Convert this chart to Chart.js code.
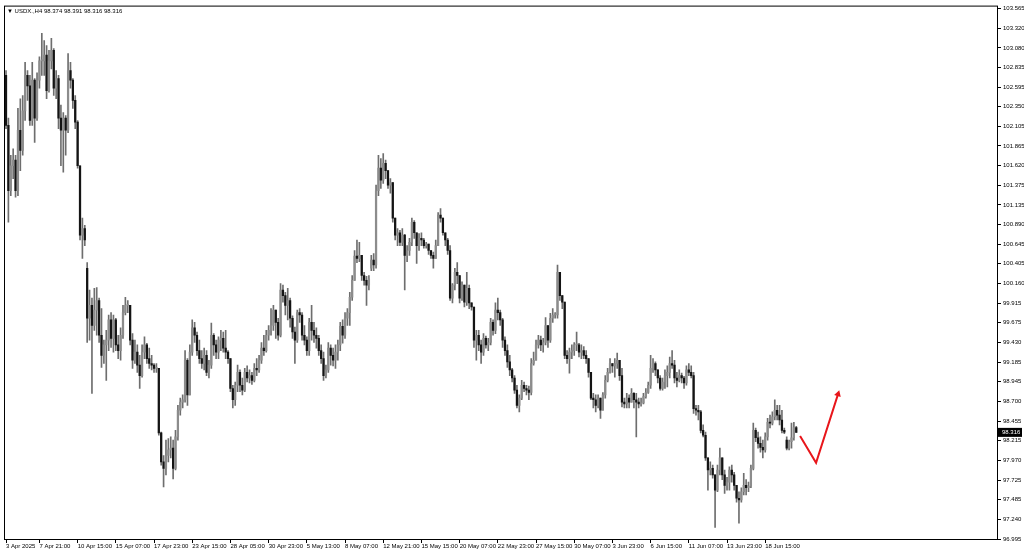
<!DOCTYPE html>
<html>
<head>
<meta charset="utf-8">
<script src="https://cdn.jsdelivr.net/npm/chart.js@4/dist/chart.umd.min.js"></script>
<style>
  html, body { margin: 0; padding: 0; background: #fff; }
  #wrap { width: 1024px; height: 559px; }
</style>
</head>
<body>
<div id="wrap"><canvas id="myChart" width="1024" height="559"></canvas></div>
<script>
const symbolTitle = '\u25BC USDX.,H4 98.374 98.391 98.316 98.316';

// time axis labels and the bar index each one sits on
const timeLabels = ['3 Apr 2025', '7 Apr 21:00', '10 Apr 15:00', '15 Apr 07:00', '17 Apr 23:00', '23 Apr 15:00',
    '28 Apr 05:00', '30 Apr 23:00', '5 May 13:00', '8 May 07:00', '12 May 21:00', '15 May 15:00', '20 May 07:00',
    '22 May 23:00', '27 May 15:00', '30 May 07:00', '3 Jun 23:00', '6 Jun 15:00', '11 Jun 07:00', '13 Jun 23:00',
    '18 Jun 15:00'];
const timeTickIdx = [0, 14, 30, 46, 62, 78, 94, 110, 126, 142, 158, 174, 190, 206, 222, 238, 254, 270, 286, 302, 318];

// price scale labels
const priceTicks = [103.565, 103.320, 103.080, 102.835, 102.595, 102.350, 102.105, 101.865, 101.620, 101.375,
    101.135, 100.890, 100.645, 100.405, 100.160, 99.915, 99.675, 99.430, 99.185, 98.945, 98.700, 98.455,
    98.215, 97.970, 97.725, 97.485, 97.240, 96.995];

// H4 candles
const opens = [
102.74,102.12,101.31,101.62,101.69,101.31,102.06,101.81,102.30,102.74,
102.61,102.18,102.68,102.21,102.68,102.92,102.92,102.99,102.55,102.92,
103.05,102.58,102.70,102.21,102.06,102.21,102.06,102.80,102.68,102.43,
102.16,101.62,100.76,100.84,100.35,99.73,99.89,99.64,99.83,99.95,
99.52,99.27,99.40,99.46,99.71,99.48,99.71,99.40,99.33,99.52,
99.80,99.89,99.89,99.46,99.21,99.31,99.15,99.02,99.31,99.40,
99.23,99.17,99.15,99.11,99.11,98.31,97.95,97.87,98.03,98.10,
98.12,97.87,98.26,98.59,98.69,98.72,99.21,98.78,99.31,99.61,
99.52,99.33,99.23,99.17,99.27,99.06,99.15,99.52,99.40,99.31,
99.46,99.48,99.36,99.31,99.23,98.86,98.72,98.90,99.06,98.90,
98.84,99.06,98.99,99.02,98.96,99.11,99.09,99.21,99.36,99.33,
99.52,99.58,99.64,99.83,99.68,99.52,100.08,100.01,99.89,99.95,
99.73,99.56,99.46,99.80,99.77,99.52,99.46,99.33,99.68,99.58,
99.52,99.48,99.33,99.23,99.02,99.09,99.36,99.27,99.21,99.31,
99.40,99.63,99.52,99.73,99.80,99.99,100.20,100.50,100.47,100.51,
100.26,100.20,100.14,100.35,100.45,100.39,101.31,101.59,101.44,101.65,
101.56,101.38,101.41,100.97,100.76,100.79,100.67,100.76,100.51,100.57,
100.67,100.92,100.79,100.63,100.72,100.70,100.63,100.65,100.57,100.51,
100.47,100.63,101.01,100.97,100.79,100.70,100.57,99.98,100.14,100.30,
100.26,99.98,100.14,99.93,100.10,99.92,99.87,99.46,99.52,99.40,
99.31,99.48,99.40,99.43,99.68,99.58,99.83,99.80,99.71,99.46,
99.33,99.19,99.09,98.99,98.84,98.65,98.74,98.90,98.86,98.84,
98.81,99.17,99.21,99.40,99.46,99.40,99.43,99.64,99.46,99.73,
99.77,99.77,100.30,100.01,99.93,99.27,99.23,99.31,99.33,99.40,
99.40,99.31,99.33,99.27,99.23,99.06,98.74,98.72,98.65,98.74,
98.59,98.78,98.96,99.06,99.17,99.14,99.17,99.21,99.02,98.69,
98.67,98.74,98.69,98.80,98.72,98.69,98.67,98.68,98.76,98.81,
98.90,99.11,99.17,99.09,98.99,98.86,98.94,99.02,99.06,99.17,
99.15,98.99,98.96,99.02,98.99,98.93,99.09,99.06,99.02,98.61,
98.59,98.57,98.34,98.28,98.00,97.85,97.87,97.79,97.60,97.85,
98.00,97.79,97.66,97.70,97.85,97.79,97.66,97.50,97.48,97.58,
97.66,97.63,97.65,97.87,98.34,98.25,98.18,98.13,98.10,98.26,
98.44,98.43,98.51,98.59,98.53,98.47,98.34,98.22,98.12,98.20,
98.25,98.374];
const highs = [
102.80,102.21,101.75,101.83,101.75,102.33,102.45,102.49,102.90,102.80,
102.74,102.90,102.70,102.77,102.97,103.26,103.17,103.11,103.05,103.20,
103.07,102.80,102.74,102.37,102.28,102.24,103.01,102.90,102.70,102.49,
102.18,101.62,100.97,100.88,100.42,100.08,99.98,100.10,100.11,99.98,
99.85,99.46,99.58,99.77,99.80,99.77,99.73,99.52,99.61,99.89,
99.99,99.95,99.89,99.54,99.46,99.40,99.27,99.40,99.50,99.42,
99.36,99.27,99.17,99.17,99.11,98.32,98.03,98.22,98.24,98.26,
98.22,98.34,98.65,98.74,98.78,99.33,99.23,99.40,99.71,99.68,
99.56,99.46,99.33,99.36,99.33,99.21,99.67,99.54,99.46,99.50,
99.58,99.56,99.58,99.33,99.23,98.90,98.94,99.15,99.09,98.99,
99.11,99.14,99.09,99.06,99.17,99.23,99.27,99.43,99.52,99.58,
99.64,99.85,99.89,99.83,99.73,100.16,100.14,100.05,100.10,99.98,
99.76,99.62,99.83,99.85,99.80,99.64,99.50,99.73,99.89,99.68,
99.61,99.52,99.40,99.31,99.15,99.43,99.40,99.36,99.40,99.46,
99.68,99.71,99.80,99.85,100.05,100.26,100.57,100.70,100.67,100.51,
100.30,100.25,100.26,100.51,100.53,101.38,101.75,101.71,101.77,101.69,
101.56,101.46,101.41,100.97,100.84,100.82,100.84,100.77,100.63,100.72,
100.97,100.94,100.79,100.78,100.79,100.72,100.67,100.65,100.57,100.55,
100.70,101.04,101.09,100.97,100.79,100.72,100.63,100.16,100.35,100.42,
100.26,100.18,100.14,100.30,100.14,99.92,99.87,99.58,99.58,99.46,
99.54,99.51,99.48,99.73,99.71,99.92,99.98,99.83,99.73,99.50,
99.40,99.27,99.11,99.02,98.90,98.78,98.96,98.94,98.90,98.89,
99.23,99.31,99.46,99.52,99.51,99.48,99.74,99.64,99.79,99.85,
99.80,100.39,100.30,100.01,99.93,99.33,99.36,99.40,99.43,99.56,
99.42,99.40,99.38,99.33,99.23,99.06,98.80,98.78,98.78,98.74,
98.81,99.02,99.11,99.23,99.17,99.23,99.30,99.21,99.11,98.74,
98.80,98.78,98.86,98.81,98.80,98.74,98.74,98.80,98.86,98.94,
99.27,99.23,99.19,99.09,99.02,98.99,99.09,99.14,99.25,99.33,
99.21,99.06,99.09,99.05,99.01,99.14,99.17,99.14,99.06,98.65,
98.65,98.59,98.41,98.32,98.00,97.95,97.91,97.79,97.91,98.12,
98.00,97.85,97.76,97.89,97.91,97.82,97.66,97.58,97.63,97.81,
97.73,97.70,97.91,98.43,98.37,98.32,98.26,98.22,98.31,98.49,
98.53,98.57,98.72,98.65,98.65,98.59,98.37,98.26,98.22,98.43,
98.44,98.391];
const lows = [
102.08,100.92,101.25,101.46,101.23,101.25,101.56,101.75,102.18,102.43,
102.12,102.12,101.91,102.18,102.58,102.74,102.74,102.45,102.53,102.82,
102.49,102.45,102.08,101.62,101.54,101.75,102.03,102.58,102.33,102.08,
101.59,100.70,100.47,100.63,99.43,99.46,98.80,99.58,99.52,99.43,
99.12,99.17,98.96,99.33,99.37,99.31,99.33,99.23,99.21,99.48,
99.77,99.80,99.40,99.11,99.17,99.06,98.86,99.00,99.23,99.17,
99.11,99.09,99.06,99.06,98.28,97.91,97.64,97.79,97.95,98.00,
97.74,97.85,98.22,98.53,98.62,98.69,98.65,98.78,99.27,99.43,
99.27,99.17,99.11,99.09,99.02,98.99,99.11,99.27,99.23,99.23,
99.33,99.31,99.23,99.17,98.82,98.62,98.65,98.82,98.82,98.78,
98.82,98.94,98.93,98.91,98.94,99.02,99.06,99.17,99.27,99.31,
99.46,99.52,99.58,99.48,99.46,99.50,99.93,99.77,99.71,99.62,
99.48,99.17,99.43,99.68,99.46,99.40,99.27,99.27,99.46,99.43,
99.36,99.27,99.17,98.96,98.99,99.06,99.15,99.14,99.11,99.21,
99.33,99.42,99.48,99.64,99.64,99.95,100.20,100.42,100.43,100.20,
100.14,99.89,100.08,100.32,100.32,100.35,101.25,101.34,101.40,101.46,
101.34,101.28,100.92,100.70,100.63,100.63,100.63,100.08,100.43,100.51,
100.63,100.72,100.41,100.57,100.63,100.60,100.60,100.52,100.47,100.35,
100.47,100.63,100.92,100.76,100.63,100.52,99.95,99.92,100.08,100.16,
99.92,99.95,99.87,99.89,99.85,99.83,99.37,99.21,99.33,99.17,
99.27,99.36,99.33,99.40,99.52,99.54,99.71,99.64,99.37,99.27,
99.12,99.02,98.94,98.80,98.62,98.57,98.72,98.82,98.78,98.72,
98.78,99.15,99.21,99.36,99.33,99.31,99.40,99.37,99.43,99.68,
99.73,99.73,99.95,99.85,99.23,99.17,99.05,99.23,99.27,99.33,
99.25,99.23,99.23,99.17,99.00,98.72,98.62,98.57,98.62,98.49,
98.59,98.74,98.94,99.05,99.06,99.00,99.11,98.96,98.63,98.62,
98.62,98.62,98.69,98.62,98.26,98.62,98.64,98.67,98.74,98.80,
98.86,99.06,99.02,98.93,98.84,98.84,98.86,98.88,98.99,99.11,
98.93,98.88,98.94,98.93,98.86,98.90,99.02,98.99,98.55,98.53,
98.47,98.31,98.26,97.97,97.60,97.79,97.75,97.14,97.58,97.79,
97.73,97.56,97.60,97.60,97.70,97.60,97.45,97.19,97.45,97.54,
97.54,97.58,97.63,97.85,98.20,98.12,98.07,98.00,98.07,98.22,
98.37,98.41,98.47,98.47,98.41,98.31,98.30,98.10,98.10,98.12,
98.22,98.316];
const closes = [
102.12,101.31,101.62,101.69,101.31,102.06,101.81,102.30,102.74,102.61,
102.18,102.68,102.21,102.68,102.92,102.92,102.99,102.55,102.92,103.05,
102.58,102.70,102.21,102.06,102.21,102.06,102.80,102.68,102.43,102.16,
101.62,100.76,100.84,100.70,99.73,99.89,99.64,99.83,99.95,99.52,
99.27,99.40,99.46,99.71,99.48,99.71,99.40,99.33,99.52,99.80,
99.89,99.89,99.46,99.21,99.31,99.15,99.02,99.31,99.40,99.23,
99.17,99.15,99.11,99.11,98.31,97.95,97.87,98.03,98.10,98.12,
97.87,98.26,98.59,98.69,98.72,99.21,98.78,99.31,99.61,99.52,
99.33,99.23,99.17,99.27,99.06,99.15,99.52,99.40,99.31,99.46,
99.48,99.36,99.31,99.23,98.86,98.72,98.90,99.06,98.90,98.84,
99.06,98.99,99.02,98.96,99.11,99.09,99.21,99.36,99.33,99.52,
99.58,99.64,99.83,99.68,99.52,100.08,100.01,99.89,99.95,99.73,
99.56,99.46,99.80,99.77,99.52,99.46,99.33,99.68,99.58,99.52,
99.48,99.33,99.23,99.02,99.09,99.36,99.27,99.21,99.31,99.40,
99.63,99.52,99.73,99.80,99.99,100.20,100.50,100.47,100.51,100.26,
100.20,100.14,100.22,100.45,100.39,101.31,101.59,101.44,101.65,101.56,
101.38,101.41,100.97,100.76,100.79,100.67,100.76,100.51,100.57,100.67,
100.92,100.79,100.63,100.72,100.70,100.63,100.65,100.57,100.51,100.47,
100.63,101.01,100.97,100.79,100.70,100.57,99.98,100.14,100.30,100.26,
99.98,100.14,99.93,100.10,99.92,99.87,99.46,99.52,99.40,99.31,
99.48,99.40,99.43,99.68,99.58,99.83,99.80,99.71,99.46,99.33,
99.19,99.09,98.99,98.84,98.65,98.74,98.90,98.86,98.84,98.81,
99.17,99.21,99.40,99.46,99.40,99.43,99.64,99.46,99.73,99.77,
99.77,100.30,100.01,99.93,99.27,99.23,99.31,99.33,99.40,99.40,
99.31,99.33,99.27,99.23,99.06,98.74,98.72,98.65,98.74,98.59,
98.78,98.96,99.06,99.17,99.14,99.17,99.21,99.02,98.69,98.67,
98.74,98.69,98.80,98.72,98.69,98.67,98.68,98.76,98.81,98.90,
99.11,99.17,99.09,98.99,98.86,98.94,99.02,99.06,99.17,99.15,
98.99,98.96,99.02,98.99,98.93,99.09,99.06,99.02,98.61,98.59,
98.57,98.34,98.28,98.00,97.85,97.87,97.79,97.60,97.85,98.00,
97.79,97.66,97.70,97.85,97.79,97.66,97.50,97.48,97.58,97.66,
97.63,97.65,97.87,98.34,98.25,98.18,98.13,98.10,98.26,98.44,
98.43,98.51,98.59,98.53,98.47,98.34,98.32,98.12,98.20,98.25,
98.374,98.316];

// hand drawn red arrow (bar index / price)
const arrowX = [332.6, 339.3, 348.5];
const arrowY = [98.27, 97.94, 98.79];

const tinyFont = { family: '"Liberation Sans", "DejaVu Sans", sans-serif', size: 6 };

const wicks = highs.map((h, i) => ({ x: i, y: [lows[i], h] }));
const bodies = opens.map((o, i) => ({ x: i, y: [o, closes[i]] }));
const bodyColors = opens.map((o, i) => closes[i] >= o ? '#8c8c8c' : '#141414');

// frame, header text and last price tag
const mtDecor = {
    id: 'mtDecor',
    afterDraw(chart) {
        const { ctx, chartArea: a } = chart;
        const yScale = chart.scales.y;
        ctx.save();
        ctx.strokeStyle = '#000';
        ctx.lineWidth = 1;
        ctx.strokeRect(a.left + 0.5, a.top + 0.5, a.right - a.left - 1, a.bottom - a.top);
        ctx.font = '6px "Liberation Sans", "DejaVu Sans", sans-serif';
        ctx.textBaseline = 'middle';
        ctx.fillStyle = '#000';
        ctx.fillText(symbolTitle, a.left + 3, a.top + 6);
        const last = closes[closes.length - 1];
        const py = yScale.getPixelForValue(last);
        ctx.fillRect(a.right, py - 4.5, 24, 9);
        ctx.fillStyle = '#fff';
        ctx.fillText(last.toFixed(3), a.right + 4, py);
        ctx.restore();
    }
};

const config = {
    type: 'bar',
    data: {
        datasets: [
            {
                type: 'line',
                data: arrowX.map((x, i) => ({ x: x, y: arrowY[i] })),
                borderColor: '#e8161b',
                backgroundColor: '#e8161b',
                borderWidth: 2,
                tension: 0,
                pointStyle: 'triangle',
                pointRadius: [0, 0, 4],
                pointRotation: [0, 0, 18],
                pointBorderWidth: 0,
                order: 0
            },
            {
                data: bodies,
                backgroundColor: bodyColors,
                barThickness: 1.6,
                minBarLength: 1,
                grouped: false,
                order: 1
            },
            {
                data: wicks,
                backgroundColor: '#6e6e6e',
                barThickness: 1,
                grouped: false,
                order: 2
            }
        ]
    },
    options: {
        responsive: false,
        animation: false,
        devicePixelRatio: 1,
        events: [],
        layout: { padding: { left: 3, top: 5, right: 0, bottom: 0 } },
        plugins: {
            legend: { display: false },
            tooltip: { enabled: false }
        },
        scales: {
            x: {
                type: 'linear',
                min: -0.84,
                max: 415.5,
                offset: false,
                afterBuildTicks: (scale) => { scale.ticks = timeTickIdx.map(v => ({ value: v })); },
                afterFit: (scale) => { scale.height = 20; },
                ticks: {
                    callback: (v, i) => timeLabels[i],
                    align: 'start',
                    autoSkip: false,
                    maxRotation: 0,
                    padding: 0,
                    color: '#000',
                    font: tinyFont
                },
                grid: { drawOnChartArea: false, offset: false, tickLength: 4, color: '#000' },
                border: { display: false }
            },
            y: {
                position: 'right',
                min: 96.995,
                max: 103.604,
                afterBuildTicks: (scale) => { scale.ticks = priceTicks.map(v => ({ value: v })); },
                afterFit: (scale) => { scale.width = 26; },
                ticks: {
                    callback: (v) => v.toFixed(3),
                    padding: 2,
                    color: '#000',
                    font: tinyFont
                },
                grid: { drawOnChartArea: false, tickLength: 3, color: '#000' },
                border: { display: false }
            }
        }
    },
    plugins: [mtDecor]
};

const myChart = new Chart(document.getElementById('myChart'), config);
</script>
</body>
</html>
